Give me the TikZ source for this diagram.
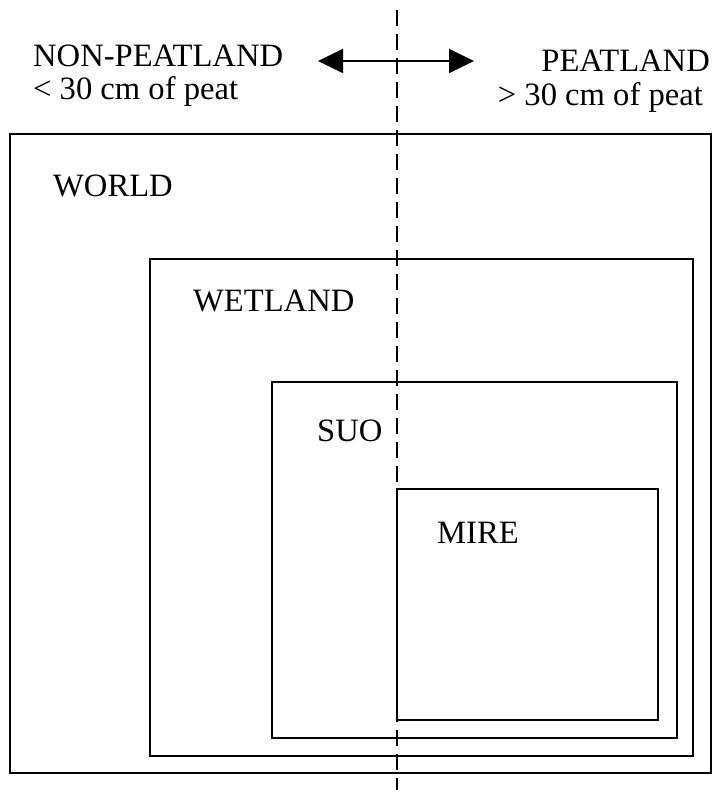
\documentclass[tikz,border=0pt]{standalone}
\usepackage{fontspec}
\setmainfont{Liberation Serif}
\usetikzlibrary{arrows.meta}
\begin{document}
\begin{tikzpicture}[x=1pt,y=-1pt,
  box/.style={draw, line width=1.7pt, inner sep=0pt, outer sep=0pt, anchor=north west},
  lbl/.style={inner sep=0pt, font=\fontsize{32.6}{32.6}\selectfont, anchor=base west},
  rlbl/.style={inner sep=0pt, font=\fontsize{32.6}{32.6}\selectfont, anchor=base east},
  divider/.style={line width=2.8pt, dash pattern=on 16pt off 8pt},
  biarrow/.style={line width=1.8pt, {Triangle[length=25pt,width=24pt]}-{Triangle[length=25pt,width=24pt]}}
]
\useasboundingbox (0,0) rectangle (712,790);
\fill[white] (0,0) rectangle (712,790);
% nested boxes
\node[box, minimum width=701pt, minimum height=639pt] (world) at (10,134) {};
\node[box, minimum width=543pt, minimum height=497pt] (wetland) at (150,259) {};
\node[box, minimum width=405pt, minimum height=356pt] (suo) at (272,382) {};
\node[box, minimum width=261pt, minimum height=231pt] (mire) at (397,489) {};
% labels
\node[lbl] (lworld) at (53,196) {WORLD};
\node[lbl] (lwetland) at (193,311) {WETLAND};
\node[lbl] (lsuo) at (317,441) {SUO};
\node[lbl] (lmire) at (437,543) {MIRE};
\node[lbl] (nonpeat) at (33,66) {NON-PEATLAND};
\node[lbl] (nonpeatsub) at (33,99) {< 30 cm of peat};
\node[rlbl] (peat) at (710,71) {PEATLAND};
\node[rlbl] (peatsub) at (703,105) {> 30 cm of peat};
% arrow
\coordinate (aL) at (318,61);
\coordinate (aR) at (474,61);
\draw[biarrow] (aL) -- (aR);
% divider
\coordinate (dtop) at (397,10);
\coordinate (dbot) at (397,790);
\draw[divider] (dtop) -- (dbot);
\end{tikzpicture}
\end{document}
